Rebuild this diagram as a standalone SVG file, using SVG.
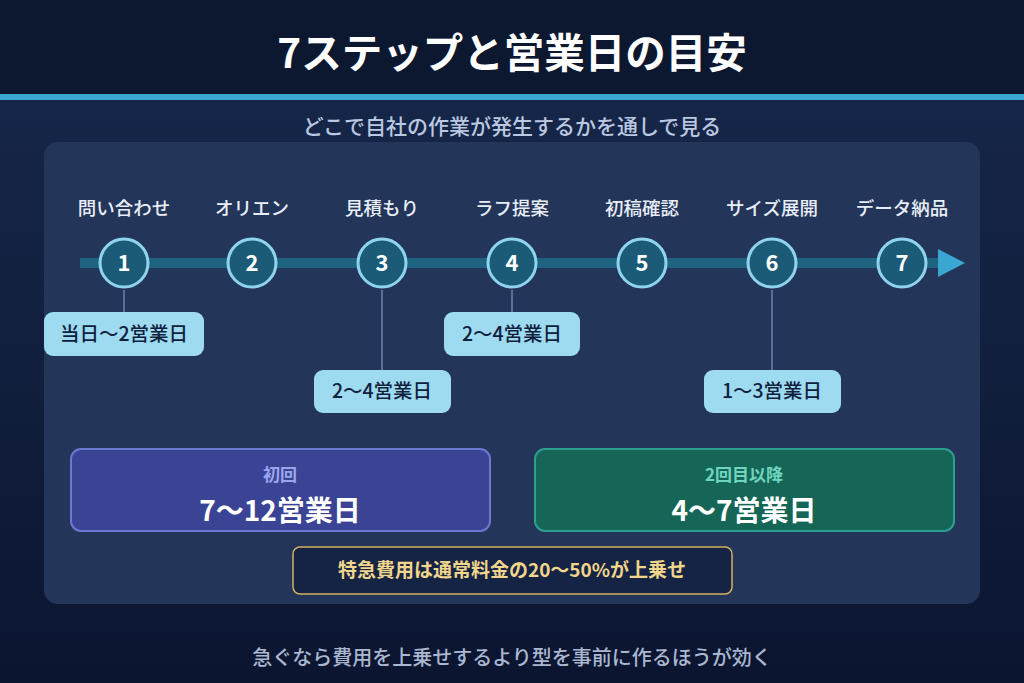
<svg xmlns="http://www.w3.org/2000/svg" width="1024" height="683" viewBox="0 0 1024 683">
<defs>
<linearGradient id="bg" x1="0" y1="0" x2="0" y2="1">
<stop offset="0" stop-color="#18294c"/>
<stop offset="1" stop-color="#0b1530"/>
</linearGradient>
<style>
text{font-family:"Noto Sans CJK JP","Noto Sans",sans-serif;text-anchor:middle}
.step{font-size:18.5px;fill:#e8eef8;font-weight:500}
.circ{fill:#1b5b78;stroke:#8fd3ee;stroke-width:3}
.num{font-size:22px;font-weight:700;fill:#ffffff}
.tick{stroke:#5d6e9a;stroke-width:2}
.dur{fill:#9edbf1}
.durt{font-size:19.5px;fill:#0f203d;font-weight:500}
</style>
</defs>
<rect width="1024" height="683" fill="url(#bg)"/>
<rect width="1024" height="94" fill="#0c1730"/>
<rect y="94" width="1024" height="6" fill="#3aa7d3"/>
<text x="512" y="68" font-size="40.5" font-weight="700" fill="#ffffff">7ステップと営業日の目安</text>
<text x="512" y="134" font-size="21" fill="#bac8e2" font-weight="500">どこで自社の作業が発生するかを通しで見る</text>
<rect x="44" y="142" width="936" height="462" rx="14" fill="#233559"/>
<g id="connectors">
<rect x="80" y="258" width="862" height="10" fill="#1e6480"/>
<polygon points="938,249 965,263 938,277" fill="#3aa7d3"/>
<line class="tick" x1="124" y1="290" x2="124" y2="313"/>
<line class="tick" x1="382" y1="290" x2="382" y2="370"/>
<line class="tick" x1="512" y1="290" x2="512" y2="313"/>
<line class="tick" x1="772" y1="290" x2="772" y2="370"/>
</g>
<g id="step1"><text class="step" x="124" y="215">問い合わせ</text><circle class="circ" cx="124" cy="263" r="24"/><text class="num" x="124" y="271">1</text></g>
<g id="step2"><text class="step" x="252" y="215">オリエン</text><circle class="circ" cx="252" cy="263" r="24"/><text class="num" x="252" y="271">2</text></g>
<g id="step3"><text class="step" x="382" y="215">見積もり</text><circle class="circ" cx="382" cy="263" r="24"/><text class="num" x="382" y="271">3</text></g>
<g id="step4"><text class="step" x="512" y="215">ラフ提案</text><circle class="circ" cx="512" cy="263" r="24"/><text class="num" x="512" y="271">4</text></g>
<g id="step5"><text class="step" x="642" y="215">初稿確認</text><circle class="circ" cx="642" cy="263" r="24"/><text class="num" x="642" y="271">5</text></g>
<g id="step6"><text class="step" x="772" y="215">サイズ展開</text><circle class="circ" cx="772" cy="263" r="24"/><text class="num" x="772" y="271">6</text></g>
<g id="step7"><text class="step" x="902" y="215">データ納品</text><circle class="circ" cx="902" cy="263" r="24"/><text class="num" x="902" y="271">7</text></g>
<g id="dur1"><rect class="dur" x="44" y="312" width="160" height="44" rx="9"/><text class="durt" x="124" y="341">当日〜2営業日</text></g>
<g id="dur3"><rect class="dur" x="314" y="370" width="137" height="43" rx="9"/><text class="durt" x="382" y="398">2〜4営業日</text></g>
<g id="dur4"><rect class="dur" x="444" y="312" width="136" height="44" rx="9"/><text class="durt" x="512" y="341">2〜4営業日</text></g>
<g id="dur6"><rect class="dur" x="704" y="370" width="137" height="43" rx="9"/><text class="durt" x="772" y="398">1〜3営業日</text></g>
<g id="first"><rect x="71" y="449" width="419" height="82" rx="10" fill="#3b4494" stroke="#6b79d2" stroke-width="2"/><text x="280" y="481" font-size="17" font-weight="700" fill="#9aa6ec">初回</text><text x="280" y="521" font-size="28" font-weight="700" fill="#ffffff">7〜12営業日</text></g>
<g id="repeat"><rect x="535" y="449" width="419" height="82" rx="10" fill="#166657" stroke="#2e9e8e" stroke-width="2"/><text x="744" y="481" font-size="17" font-weight="700" fill="#6fd5bf">2回目以降</text><text x="744" y="521" font-size="28" font-weight="700" fill="#ffffff">4〜7営業日</text></g>
<g id="note"><rect x="293" y="547" width="439" height="47" rx="7" fill="#152445" stroke="#d3b15e" stroke-width="1.5"/><text x="512" y="577" font-size="19" font-weight="700" fill="#f1d68b">特急費用は通常料金の20〜50%が上乗せ</text></g>
<text x="512" y="665" font-size="20" fill="#aab7d0" font-weight="500">急ぐなら費用を上乗せするより型を事前に作るほうが効く</text>
</svg>
